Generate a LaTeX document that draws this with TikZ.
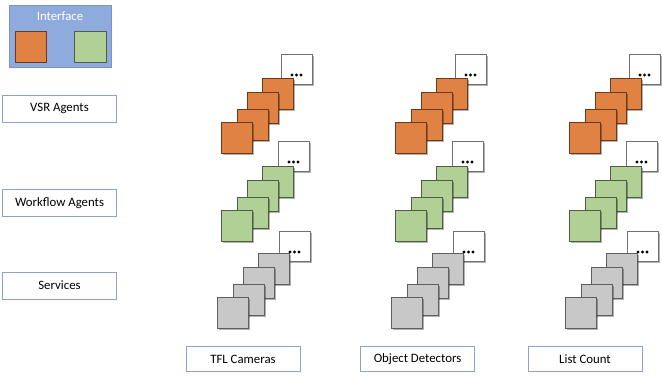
\documentclass[tikz,border=0pt]{standalone}
\usepackage{fontspec}
\setmainfont{Carlito}
\usetikzlibrary{shadows}
\definecolor{ifblue}{HTML}{8FAADC}
\definecolor{ifborder}{HTML}{7A93C4}
\definecolor{lblborder}{HTML}{8EA3CC}
\definecolor{orfill}{HTML}{E08243}
\definecolor{ordraw}{HTML}{6B3A1A}
\definecolor{grfill}{HTML}{B0D096}
\definecolor{grdraw}{HTML}{4E5E44}
\definecolor{gyfill}{HTML}{C8C8C8}
\definecolor{gydraw}{HTML}{5E5E5E}
\definecolor{whdraw}{HTML}{707070}
\tikzset{
  lbl/.style={draw=lblborder, line width=0.9pt, fill=white, minimum width=114pt,
    minimum height=27pt, inner sep=0pt, font=\fontsize{12.8}{14}\selectfont},
  shad/.style={drop shadow={shadow xshift=1.3pt, shadow yshift=-1.3pt, opacity=0.3, fill=black}},
  sq/.style={line width=0.9pt, minimum width=31pt, minimum height=31pt, inner sep=0pt,
    anchor=north west, shad},
  whbox/.style={sq, fill=white, draw=whdraw, minimum height=30pt},
  dotmark/.style={circle, fill=black, inner sep=0pt, minimum size=3.2pt},
}
\begin{document}
\begin{tikzpicture}[x=1pt,y=-1pt]
\useasboundingbox (0,0) rectangle (662,377);
% Interface legend
\node[draw=ifborder, fill=ifblue, line width=0.9pt, minimum width=102pt, minimum height=62pt,
  inner sep=0pt, anchor=north west] (iface) at (9,5) {};
\node[text=white, font=\fontsize{12.8}{14}\selectfont] (ifacetxt) at (60,16) {Interface};
\node[draw=ordraw, fill=orfill, line width=0.9pt, minimum width=31pt, minimum height=31pt,
  inner sep=0pt, anchor=north west] (ifor) at (15,31) {};
\node[draw=grdraw, fill=grfill, line width=0.9pt, minimum width=32pt, minimum height=31pt,
  inner sep=0pt, anchor=north west] (ifgr) at (74,31) {};
% Row labels
\node[lbl] (vsr) at (59.5,108.5) {VSR Agents};
\node[lbl] (wf) at (59.5,203) {Workflow Agents};
\node[lbl] (svc) at (59.5,285.5) {Services};
% Column labels
\node[lbl, minimum height=25pt] (tfl) at (243,359) {TFL Cameras};
\node[lbl, minimum height=25pt] (od) at (417.5,359) {Object Detectors};
\node[lbl, minimum height=25pt] (lc) at (585,359) {List Count};
% Stacks
\foreach \cx in {0,174,348} {
  \foreach \bx/\by/\fc/\dc/\row/\wx/\wy in {221/122/orfill/ordraw/o/60/68,
      221/210/grfill/grdraw/g/57/69, 217/297/gyfill/gydraw/s/62/66} {
    \node[whbox] (w-\row-\cx) at (\bx+\cx+\wx, \by-\wy) {};
    \node[dotmark] (d1-\row-\cx) at (\bx+\cx+\wx+11, \by-\wy+21) {};
    \node[dotmark] (d2-\row-\cx) at (\bx+\cx+\wx+15.5, \by-\wy+21) {};
    \node[dotmark] (d3-\row-\cx) at (\bx+\cx+\wx+20, \by-\wy+21) {};
    \node[sq, fill=\fc, draw=\dc] (a-\row-\cx) at (\bx+\cx+41, \by-44) {};
    \node[sq, fill=\fc, draw=\dc] (b-\row-\cx) at (\bx+\cx+26, \by-30) {};
    \node[sq, fill=\fc, draw=\dc] (c-\row-\cx) at (\bx+\cx+16, \by-13) {};
    \node[sq, fill=\fc, draw=\dc] (e-\row-\cx) at (\bx+\cx, \by) {};
  }
}
\end{tikzpicture}
\end{document}
